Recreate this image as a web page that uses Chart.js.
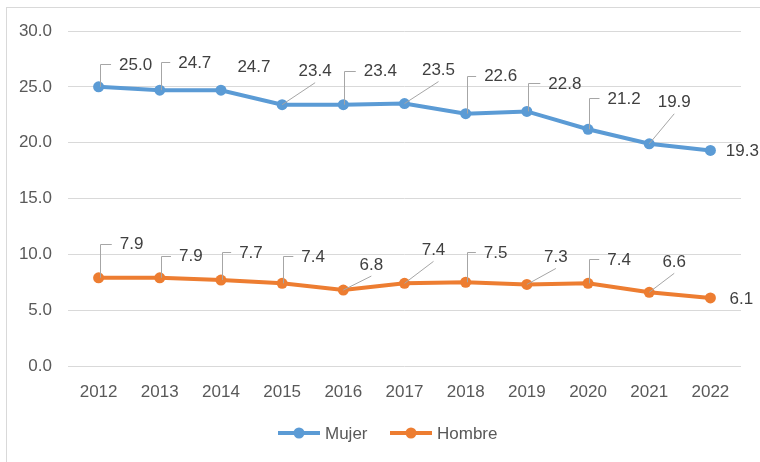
<!DOCTYPE html>
<html>
<head>
<meta charset="utf-8">
<script src="https://cdn.jsdelivr.net/npm/chart.js@4.4.0/dist/chart.umd.min.js"></script>
<style>
  html, body { margin: 0; padding: 0; background: #ffffff; }
  #wrap { position: relative; width: 760px; height: 462px; }
</style>
</head>
<body>
<div id="wrap"><canvas id="c" width="760" height="462"></canvas></div>
<script>
// ---- data ----
const categories = ['2012','2013','2014','2015','2016','2017','2018','2019','2020','2021','2022'];
const mujer  = [25.0, 24.7, 24.7, 23.4, 23.4, 23.5, 22.6, 22.8, 21.2, 19.9, 19.3];
const hombre = [7.9, 7.9, 7.7, 7.4, 6.8, 7.4, 7.5, 7.3, 7.4, 6.6, 6.1];
const seriesNames = ['Mujer', 'Hombre'];
const yTicks = [0, 5, 10, 15, 20, 25, 30];

// ---- label placement (Excel-style, offset from point; leader: v = elbow, d = diagonal, n = none) ----
const labelLayout = [
  { dx: [37, 35, 33, 33, 37, 34, 35, 38, 36, 25, 32],
    dy: [-22, -27, -23, -33, -33, -33, -37, -27, -30, -41, 1],
    leader: ['v','v','n','d','v','d','v','v','v','d','n'] },
  { dx: [33, 31, 30, 31, 28, 29, 30, 29, 31, 25, 31],
    dy: [-33, -21, -27, -26, -25, -33, -29, -27, -23, -30, 1],
    leader: ['v','v','v','v','d','d','v','d','v','d','n'] }
];

const colors = ['#5b9bd5', '#ed7d31'];
const FONT = '"Liberation Sans", Arial, sans-serif';

const labelPlugin = {
  id: 'excelLabels',
  afterDatasetsDraw(chart) {
    const ctx = chart.ctx;
    ctx.save();
    ctx.font = '17px ' + FONT;
    chart.data.datasets.forEach((ds, di) => {
      const meta = chart.getDatasetMeta(di);
      const lay = labelLayout[di];
      meta.data.forEach((pt, i) => {
        const txt = ds.data[i].toFixed(1);
        const cx = pt.x + lay.dx[i];
        const cy = pt.y + lay.dy[i];
        const w = ctx.measureText(txt).width;
        const left = cx - w / 2;
        ctx.strokeStyle = '#a6a6a6';
        ctx.lineWidth = 1;
        if (lay.leader[i] === 'v') {
          const lx = Math.round(pt.x + 1) + 0.5;
          const ly = Math.round(cy - 1) + 0.5;
          ctx.beginPath();
          ctx.moveTo(lx, pt.y);
          ctx.lineTo(lx, ly);
          ctx.lineTo(left - 8, ly);
          ctx.stroke();
        } else if (lay.leader[i] === 'd') {
          ctx.beginPath();
          ctx.moveTo(pt.x, pt.y);
          ctx.lineTo(cx, cy + 11);
          ctx.stroke();
        }
        ctx.fillStyle = '#404040';
        ctx.textAlign = 'center';
        ctx.textBaseline = 'middle';
        ctx.fillText(txt, cx, cy);
      });
    });
    ctx.restore();
  }
};

const frameLegendPlugin = {
  id: 'frameLegend',
  beforeDraw(chart) {
    const ctx = chart.ctx;
    ctx.save();
    ctx.fillStyle = '#ffffff';
    ctx.fillRect(0, 0, chart.width, chart.height);
    ctx.strokeStyle = '#d9d9d9';
    ctx.lineWidth = 1;
    ctx.strokeRect(6.5, 7.5, 800, 500);
    ctx.restore();
  },
  afterDraw(chart) {
    const ctx = chart.ctx;
    ctx.save();
    const y = 433;
    const items = [{ x: 278, ds: 0 }, { x: 390, ds: 1 }];
    items.forEach(it => {
      const col = colors[it.ds];
      ctx.strokeStyle = col;
      ctx.lineWidth = 4;
      ctx.beginPath();
      ctx.moveTo(it.x, y);
      ctx.lineTo(it.x + 42, y);
      ctx.stroke();
      ctx.fillStyle = col;
      ctx.beginPath();
      ctx.arc(it.x + 21, y, 5.5, 0, Math.PI * 2);
      ctx.fill();
      ctx.fillStyle = '#595959';
      ctx.font = '17px ' + FONT;
      ctx.textAlign = 'left';
      ctx.textBaseline = 'middle';
      ctx.fillText(chart.data.datasets[it.ds].label, it.x + 47, y + 1);
    });
    ctx.restore();
  }
};

new Chart(document.getElementById('c'), {
  type: 'line',
  data: {
    labels: categories,
    datasets: [
      { label: seriesNames[0], data: mujer, borderColor: colors[0], backgroundColor: colors[0],
        borderWidth: 4, pointRadius: 5.5, pointBorderWidth: 0, pointBackgroundColor: colors[0], tension: 0 },
      { label: seriesNames[1], data: hombre, borderColor: colors[1], backgroundColor: colors[1],
        borderWidth: 4, pointRadius: 5.5, pointBorderWidth: 0, pointBackgroundColor: colors[1], tension: 0 }
    ]
  },
  options: {
    responsive: false,
    animation: false,
    events: [],
    layout: { padding: { left: 0, top: 31, right: 19, bottom: 47.5 } },
    plugins: { legend: { display: false }, tooltip: { enabled: false } },
    scales: {
      x: {
        offset: true,
        grid: { display: false, drawTicks: false },
        border: { display: false },
        ticks: { color: '#595959', font: { family: FONT, size: 17 }, padding: 16, maxRotation: 0 },
        afterFit(s) { s.height = 48.5; }
      },
      y: {
        min: 0, max: 30,
        afterBuildTicks(s) { s.ticks = yTicks.map(v => ({ value: v })); },
        grid: { color: '#d9d9d9', lineWidth: 1, drawTicks: false },
        border: { display: false },
        ticks: { color: '#595959', font: { family: FONT, size: 17 }, padding: 16,
                 callback: v => Number(v).toFixed(1) },
        afterFit(s) { s.width = 68; }
      }
    }
  },
  plugins: [labelPlugin, frameLegendPlugin]
});
</script>
</body>
</html>
